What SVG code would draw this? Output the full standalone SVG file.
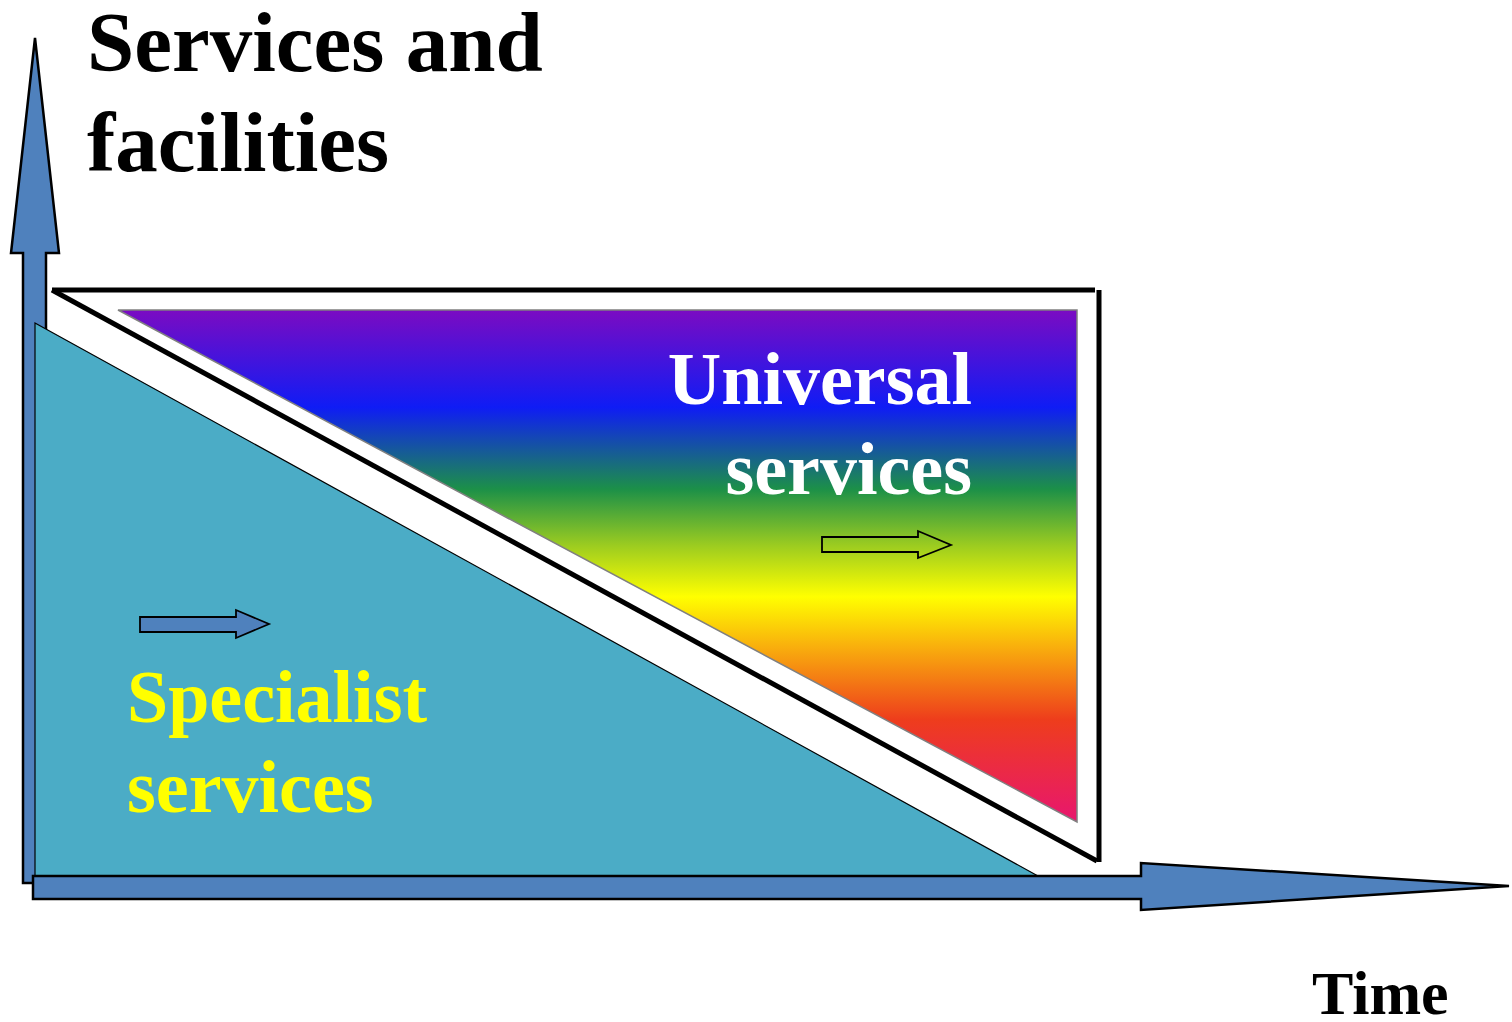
<svg xmlns="http://www.w3.org/2000/svg" width="1512" height="1022" viewBox="0 0 1512 1022">
<defs>
<linearGradient id="rainbow" gradientUnits="userSpaceOnUse" x1="0" y1="310" x2="0" y2="822">
<stop offset="0" stop-color="#7b0bc2"/>
<stop offset="0.19" stop-color="#0f1cf5"/>
<stop offset="0.35" stop-color="#1c9048"/>
<stop offset="0.46" stop-color="#9ccc20"/>
<stop offset="0.56" stop-color="#ffff00"/>
<stop offset="0.67" stop-color="#f8a50e"/>
<stop offset="0.80" stop-color="#ee3d1c"/>
<stop offset="1" stop-color="#e8166f"/>
</linearGradient>
<style>
.axis{fill:#4f81bd;stroke:#000;stroke-width:2.5;stroke-linejoin:miter}
.big{font-family:"Liberation Serif","Times New Roman",serif;font-weight:bold}
</style>
</defs>
<rect width="1512" height="1022" fill="#fff"/>
<g id="y-axis-node">
<polygon id="y-axis" class="axis" points="23,883 23,253 11,253 35,38 59,253 46,253 46,883"/>
</g>
<g id="specialist-area">
<polygon points="35,323 35,876 1038,876" fill="#4bacc6" stroke="#000" stroke-width="1.2"/>
</g>
<g id="universal-area">
<polygon points="118,310 1077,310 1077,822" fill="url(#rainbow)" stroke="#808080" stroke-width="1.5"/>
</g>
<g id="frame">
<path d="M52,290 L1095,290" stroke="#000" stroke-width="5" fill="none"/>
<path d="M1099,290 L1099,862" stroke="#000" stroke-width="5" fill="none"/>
<path d="M1097,861 L52,290" stroke="#000" stroke-width="5" fill="none"/>
</g>
<g id="connectors">
<polygon id="x-axis" class="axis" points="33,876 1141,876 1141,863 1509,886 1141,910 1141,899 33,899"/>
<polygon id="universal-arrow" points="822,537 918,537 918,531 951,545 918,558 918,552 822,552" fill="none" stroke="#000" stroke-width="1.8"/>
<polygon id="specialist-arrow" points="140,617 236,617 236,610 269,624 236,638 236,632 140,632" fill="#4f81bd" stroke="#000" stroke-width="1.8"/>
</g>
<g id="labels">
<text class="big" x="87" y="71" font-size="85" fill="#000">Services and</text>
<text class="big" x="87" y="171" font-size="85" fill="#000">facilities</text>
<text class="big" x="972" y="404" font-size="74" fill="#fff" text-anchor="end">Universal</text>
<text class="big" x="972" y="494" font-size="74" fill="#fff" text-anchor="end">services</text>
<text class="big" x="127" y="722" font-size="74" fill="#ffff00">Specialist</text>
<text class="big" x="127" y="812" font-size="74" fill="#ffff00">services</text>
<text class="big" x="1312" y="1014" font-size="62" fill="#000">Time</text>
</g>
</svg>
